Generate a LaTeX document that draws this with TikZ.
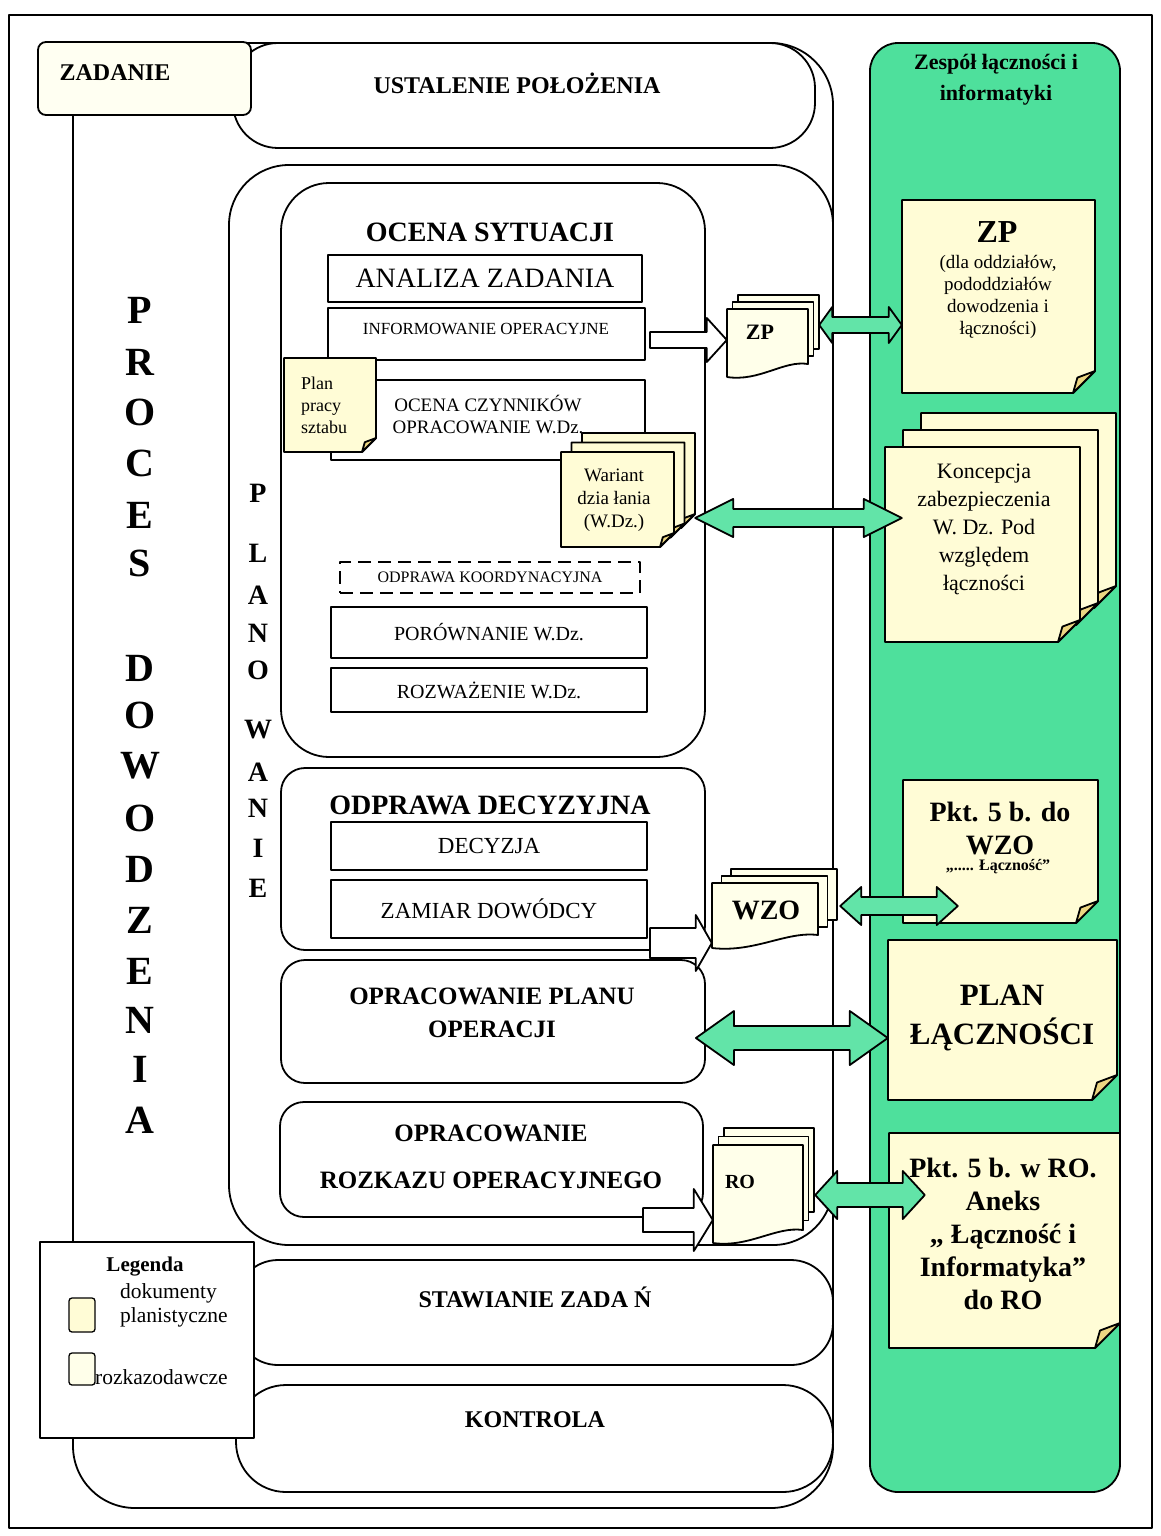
\documentclass[tikz,border=0pt]{standalone}
\usepackage{fontspec}
\setmainfont{Liberation Serif}
\usetikzlibrary{calc}
\usetikzlibrary{fit}

\definecolor{colgreen}{RGB}{78,224,156}
\definecolor{arrgreen}{RGB}{98,228,168}
\definecolor{planfill}{RGB}{255,252,214}
\definecolor{rozfill}{RGB}{255,255,234}
\definecolor{flapfill}{RGB}{236,214,130}
\definecolor{zadfill}{RGB}{255,255,242}

\newcommand{\fsz}[2]{\fontsize{#1}{#2}\selectfont}

% planning document: name, x1, y1, x2, y2, fold
\newcommand{\planpage}[6]{%
  \draw[docline, fill=planfill] (#2,#3) -- (#4,#3) -- ({#4},{#5-#6}) -- ({#4-#6},{#5}) -- (#2,#5) -- cycle;
  \draw[docline, fill=flapfill] ({#4},{#5-#6}) -- ({#4-#6},{#5}) -- ({#4-0.8*#6},{#5-0.7*#6}) -- cycle;
  \node[fit={(#2,#3) (#4,#5)}, inner sep=0pt] (#1) {};}
\newcommand{\planstack}[8]{%
  \foreach \k in {2,1} {\planpage{#1-\k}{#2+\k*#7}{#3-\k*#8}{#4+\k*#7}{#5-\k*#8}{#6}}
  \planpage{#1}{#2}{#3}{#4}{#5}{#6}}

% order document (wavy bottom): name, x1, y1, x2, y2
\newcommand{\rozpage}[5]{%
  \draw[docline, fill=rozfill] (#2,#3) -- (#4,#3) -- ({#4},{#5-13})
    .. controls ({#4-0.3*(#4-#2)},{#5-17}) and ({#2+0.4*(#4-#2)},{#5+5}) .. (#2,#5) -- cycle;
  \node[fit={(#2,#3) (#4,#5)}, inner sep=0pt] (#1) {};}
\newcommand{\rozstack}[7]{%
  \foreach \k in {2,1} {%
    \draw[docline, fill=rozfill] (#2+\k*#6,#3-\k*#7) rectangle (#4+\k*#6,#5-14-\k*#7);
    \node[fit={(#2+\k*#6,#3-\k*#7) (#4+\k*#6,#5-14-\k*#7)}, inner sep=0pt] (#1-\k) {};}
  \rozpage{#1}{#2}{#3}{#4}{#5}}

% white block arrow: from, to, y, shaft, head, head length
\newcommand{\blockarrow}[6]{%
  \draw[docline, fill=white] let \p1=#1, \p2=#2, \p3=(0,#3) in
    (\x1,\y3+#4pt) -- (\x2-#6pt,\y3+#4pt) -- (\x2-#6pt,\y3+#5pt) -- (\x2,\y3)
    -- (\x2-#6pt,\y3-#5pt) -- (\x2-#6pt,\y3-#4pt) -- (\x1,\y3-#4pt) -- cycle;}

% green double arrow: from, to, y, shaft, head, head length
\newcommand{\dblarrow}[6]{%
  \draw[greenarrow] let \p1=#1, \p2=#2, \p3=(0,#3) in
    (\x1,\y3) -- (\x1+#6pt,\y3+#5pt) -- (\x1+#6pt,\y3+#4pt) -- (\x2-#6pt,\y3+#4pt)
    -- (\x2-#6pt,\y3+#5pt) -- (\x2,\y3) -- (\x2-#6pt,\y3-#5pt) -- (\x2-#6pt,\y3-#4pt)
    -- (\x1+#6pt,\y3-#4pt) -- (\x1+#6pt,\y3-#5pt) -- cycle;}

\begin{document}
\begin{tikzpicture}[x=1pt, y=-1pt, line join=round,
    docline/.style={draw=black, line width=1.8pt},
    bigline/.style={draw=black, line width=1.8pt},
    box/.style={draw, line width=1.8pt, fill=white, inner sep=0pt, minimum width=316},
    rbox/.style={draw, line width=1.8pt, fill=white, inner sep=0pt, rounded corners=24},
    ttl/.style={font=\bfseries\fsz{28}{32}, inner sep=0pt},
    midttl/.style={font=\bfseries\fsz{24}{28}, inner sep=0pt},
    greenarrow/.style={draw=black, line width=1.8pt, fill=arrgreen},
    letter/.style={font=\bfseries\fsz{40}{40}, inner sep=0pt},
    smallletter/.style={font=\bfseries\fsz{28}{28}, inner sep=0pt}]

    \useasboundingbox (0,0) rectangle (1161,1536);

    % Draw frame
    \draw[bigline] (9,15) rectangle (1152,1528);

    % Proces dowodzenia and its stages
    \draw[bigline, rounded corners=62] (73,43) rectangle (833,1508);
    \draw[bigline, fill=white, rounded corners=45] (233,43) rectangle (815,148);
    \node[midttl] (ustalenie) at (517,83) {USTALENIE POŁOŻENIA};
    \draw[bigline, fill=white, rounded corners=60] (229,165) rectangle (833,1245);
    \draw[bigline, fill=white, rounded corners=42] (236,1260) rectangle (833,1365);
    \node[midttl] (stawianie) at (535,1297) {STAWIANIE ZADA Ń};
    \draw[bigline, fill=white, rounded corners=50] (236,1385) rectangle (833,1492);
    \node[midttl] (kontrola) at (535,1420) {KONTROLA};

    % Legend
    \node[draw, line width=1.8pt, fill=white, minimum width=214, minimum height=196, inner sep=0pt] (legenda) at (147,1340) {};
    \node[font=\bfseries\fsz{21}{24}, inner sep=0pt] (legtitle) at (145,1267) {Legenda};
    \draw[line width=1.3pt, fill=planfill, rounded corners=3] (69,1298) rectangle (95,1332);
    \draw[line width=1.3pt, fill=rozfill, rounded corners=3] (69,1353) rectangle (95,1385);
    \node[font=\fsz{21.5}{24}, align=left, anchor=west, inner sep=0pt] (legplan) at (120,1305) {dokumenty\\planistyczne};
    \node[font=\fsz{21.5}{24}, anchor=west, inner sep=0pt] (legroz) at (95,1377) {rozkazodawcze};

    % Zadanie
    \node[draw, line width=1.8pt, fill=zadfill, rounded corners=8, minimum width=213, minimum height=73, inner sep=0pt] (zadanie) at (144.5,78.5) {};
    \node[midttl] (zadanietxt) at (115,73) {ZADANIE};

    % Vertical titles
    \foreach \c/\yy [count=\i] in {P/310,R/362,O/412,C/463,E/515,S/563,D/668,O/715,W/766,O/818,D/869,Z/920,E/971,N/1020,I/1069,A/1120}
        \node[letter] (proces\i) at (140,\yy) {\c};
    \foreach \c/\yy [count=\i] in {P/493,L/553,A/595,N/633,O/670,W/730,A/772,N/808,I/848,E/888}
        \node[smallletter] (plan\i) at (258,\yy) {\c};

    % Ocena sytuacji
    \node[rbox, rounded corners=48, minimum width=424, minimum height=574] (ocena) at (493,470) {};
    \node[ttl] (ocenatxt) at (490,232) {OCENA SYTUACJI};
    \node[box, minimum width=314, minimum height=47, font=\fsz{28}{32}] (analiza) at (485,278.5) {ANALIZA ZADANIA};
    \node[box, minimum width=317, minimum height=52] (informowanie) at (486.5,334) {};
    \node[font=\fsz{17}{20}, inner sep=0pt] (informowanietxt) at (486,329) {INFORMOWANIE OPERACYJNE};
    \node[box, minimum width=314, minimum height=80] (czynniki) at (488,420) {};
    \node[font=\fsz{19}{22}, align=center, inner sep=0pt] (czynnikitxt) at (488,414) {OCENA CZYNNIKÓW\\OPRACOWANIE W.Dz.};
    \node[box, dashed, dash pattern=on 13pt off 7pt, minimum width=300, minimum height=31, font=\fsz{16}{18}] (koordynacja) at (490,577.5) {ODPRAWA KOORDYNACYJNA};
    \node[box, minimum height=51, font=\fsz{20}{24}] (porownanie) at (489,632.5) {PORÓWNANIE W.Dz.};
    \node[box, minimum height=44, font=\fsz{20}{24}] (rozwazenie) at (489,690) {ROZWAŻENIE W.Dz.};

    % Plan pracy sztabu and warianty
    \planpage{planpracy}{284}{358}{376}{452}{14}
    \node[font=\fsz{18}{22}, align=left, anchor=west, inner sep=0pt] (planpracytxt) at (301,405) {Plan\\pracy\\sztabu};
    \planstack{wariant}{561}{452}{674}{547}{14}{10.5}{9.5}
    \node[font=\fsz{19}{23}, align=center, inner sep=0pt] (warianttxt) at (614,500) {Wariant\\dzia łania\\(W.Dz.)};

    % Odprawa decyzyjna
    \node[rbox, minimum width=424, minimum height=182] (decyzyjna) at (493,859) {};
    \node[ttl] (decyzyjnatxt) at (490,805) {ODPRAWA DECYZYJNA};
    \node[box, minimum height=48, font=\fsz{23}{26}] (decyzja) at (489,846) {DECYZJA};
    \node[box, minimum height=58, font=\fsz{23}{26}] (zamiar) at (489,909) {ZAMIAR DOWÓDCY};

    % Opracowanie planu / rozkazu
    \node[rbox, minimum width=424, minimum height=123] (planu) at (493,1021.5) {};
    \node[ttl, font=\bfseries\fsz{25}{33}, align=center] (planutxt) at (492,1013) {OPRACOWANIE PLANU\\OPERACJI};
    \node[rbox, minimum width=423, minimum height=115] (rozkaz) at (491.5,1159.5) {};
    \node[ttl, font=\bfseries\fsz{25}{47}, align=center] (rozkaztxt) at (491,1157) {OPRACOWANIE\\ROZKAZU OPERACYJNEGO};

    % Zespol lacznosci i informatyki
    \draw[bigline, fill=colgreen, rounded corners=28] (870,43) rectangle (1120,1492);
    \node[font=\bfseries\fsz{22}{31}, align=center, inner sep=0pt] (zespol) at (996,80) {Zespół łączności i\\informatyki};

    % Order documents
    \rozstack{zp}{727}{309}{808}{377}{5.5}{7}
    \node[font=\bfseries\fsz{22}{24}, inner sep=0pt] (zptxt) at (760,332) {ZP};
    \blockarrow{([xshift=4pt]informowanie.east)}{(zp.west)}{340}{8}{22}{20}
    \rozstack{wzo}{712}{883}{818}{948}{9.5}{7}
    \node[font=\bfseries\fsz{28}{30}, inner sep=0pt] (wzotxt) at (766,910) {WZO};
    \blockarrow{([xshift=2pt]zamiar.east)}{(wzo.west)}{943}{15}{28}{16}
    \rozstack{ro}{713}{1145}{803}{1243}{5.5}{8.5}
    \node[font=\bfseries\fsz{20}{22}, inner sep=0pt] (rotxt) at (740,1182) {RO};
    \blockarrow{([xshift=-61pt]rozkaz.east)}{(ro.west)}{1220}{12}{31}{19}

    % Planning documents of the team
    \planpage{zpbig}{902}{200}{1095}{393}{22}
    \node[font=\bfseries\fsz{32}{34}, inner sep=0pt] (zpbigtxt) at (997,232) {ZP};
    \node[font=\fsz{19}{22}, align=center, inner sep=0pt] (zpbigsub) at (998,297) {(dla oddziałów,\\pododdziałów\\dowodzenia i\\łączności)};
    \planstack{koncepcja}{885}{447}{1080}{642}{22}{18}{17}
    \node[font=\fsz{22}{28}, align=center, inner sep=0pt] (koncepcjatxt) at (984,529) {Koncepcja\\zabezpieczenia\\W. Dz. Pod\\względem\\łączności};
    \planpage{pkt5wzo}{903}{780}{1098}{923}{22}
    \node[font=\bfseries\fsz{28}{33}, align=center, inner sep=0pt] (pkt5wzotxt) at (1000,828) {Pkt. 5 b. do\\WZO};
    \node[font=\bfseries\fsz{16}{18}, inner sep=0pt] (pkt5wzosub) at (998,867) {„..... Łączność”};
    \planpage{planlacz}{888}{940}{1117}{1100}{25}
    \node[font=\bfseries\fsz{31}{39}, align=center, inner sep=0pt] (planlacztxt) at (1002,1018) {PLAN\\ŁĄCZNOŚCI};
    \planpage{pkt5ro}{889}{1133}{1120}{1348}{25}
    \node[font=\bfseries\fsz{28}{33}, align=center, inner sep=0pt] (pkt5rotxt) at (1003,1234) {Pkt. 5 b. w RO.\\Aneks\\„ Łączność i\\Informatyka”\\do RO};

    % Green double arrows
    \dblarrow{(zp-2.east)}{(zpbig.west)}{325}{8}{18}{13}
    \dblarrow{(wariant-2.east)}{([xshift=17pt]koncepcja.west)}{518}{9}{19}{38}
    \dblarrow{([xshift=3pt]wzo-2.east)}{([xshift=55pt]pkt5wzo.west)}{906}{9}{19}{21}
    \dblarrow{([xshift=-10pt]planu.east)}{(planlacz.west)}{1038}{12}{27}{38}
    \dblarrow{([xshift=1pt]ro-2.east)}{([xshift=36pt]pkt5ro.west)}{1195}{12}{24}{22}

\end{tikzpicture}
\end{document}
